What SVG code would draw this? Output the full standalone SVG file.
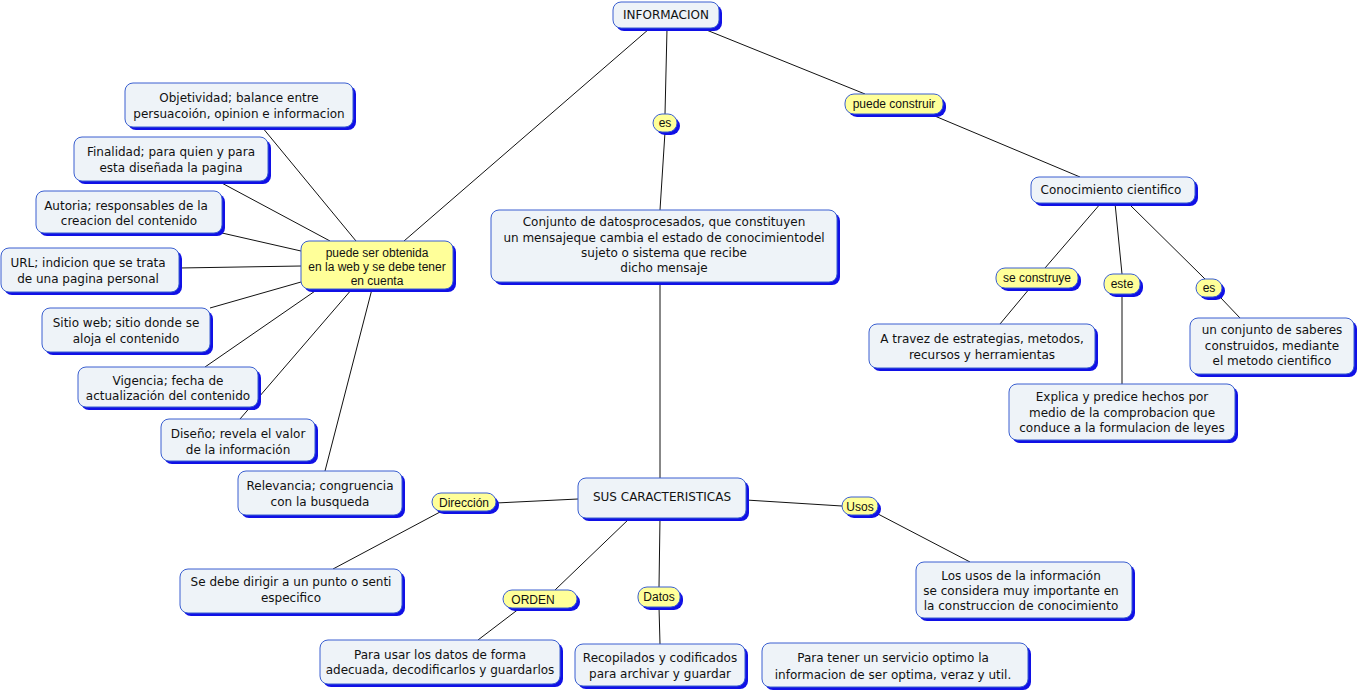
<svg xmlns="http://www.w3.org/2000/svg" width="1358" height="693" viewBox="0 0 1358 693">
<style>
.c rect.b{fill:#eef3f8;stroke:#3a5fd0;stroke-width:1}
.l rect.b{fill:#ffff99;stroke:#3a5fd0;stroke-width:1}
rect.s{fill:#1010e6}
.c text{font-family:"DejaVu Sans",Verdana,sans-serif;font-size:12px;fill:#111;text-anchor:middle}
.l text{font-family:"Liberation Sans",Arial,sans-serif;font-size:12px;fill:#111;text-anchor:middle}
#edges line{stroke:#111;stroke-width:1}
</style>
<rect width="1358" height="693" fill="#fff"/>
<g id="edges">
<line x1="649" y1="29" x2="404" y2="241"/><line x1="667" y1="29" x2="665" y2="114"/><line x1="665" y1="132" x2="660" y2="210"/>
<line x1="704" y1="29" x2="865" y2="94"/><line x1="930" y1="114" x2="1080" y2="177"/>
<line x1="1101" y1="203" x2="1045" y2="268"/><line x1="1030" y1="288" x2="1000" y2="324"/>
<line x1="1115" y1="203" x2="1122" y2="274"/><line x1="1122" y1="294" x2="1122" y2="384"/>
<line x1="1128" y1="203" x2="1205" y2="279"/><line x1="1220" y1="297" x2="1240" y2="318"/>
<line x1="262" y1="127" x2="356" y2="241"/><line x1="218" y1="181" x2="330" y2="241"/>
<line x1="222" y1="233" x2="301" y2="251"/><line x1="179" y1="268" x2="301" y2="266"/>
<line x1="210" y1="308" x2="301" y2="282"/><line x1="205" y1="367" x2="318" y2="289"/>
<line x1="240" y1="419" x2="352" y2="289"/><line x1="325" y1="471" x2="372" y2="289"/>
<line x1="660" y1="282" x2="660" y2="478"/>
<line x1="578" y1="499" x2="496" y2="503"/><line x1="440" y1="512" x2="333" y2="569"/>
<line x1="746" y1="500" x2="842" y2="506"/><line x1="878" y1="514" x2="970" y2="562"/>
<line x1="630" y1="518" x2="555" y2="590"/><line x1="520" y1="608" x2="478" y2="640"/>
<line x1="660" y1="518" x2="659" y2="587"/><line x1="659" y1="607" x2="660" y2="644"/>
</g>
<g id="informacion" class="c"><rect class="s" x="616" y="5" width="106" height="26" rx="8"/><rect class="b" x="613" y="2" width="106" height="26" rx="8"/><text x="666" y="19">INFORMACION</text></g>
<g id="es1" class="l"><rect class="s" x="656" y="117" width="24" height="18" rx="9"/><rect class="b" x="653" y="114" width="24" height="18" rx="9"/><text x="665" y="127">es</text></g>
<g id="puedeconstruir" class="l"><rect class="s" x="848" y="97" width="98" height="20" rx="9"/><rect class="b" x="845" y="94" width="98" height="20" rx="9"/><text x="894" y="108">puede construir</text></g>
<g id="conjunto" class="c"><rect class="s" x="494" y="213" width="346" height="72" rx="8"/><rect class="b" x="491" y="210" width="346" height="72" rx="8"/><text x="664" y="226">Conjunto de datosprocesados, que constituyen</text><text x="664" y="242">un mensajeque cambia el estado de conocimientodel</text><text x="664" y="257">sujeto o sistema que recibe</text><text x="664" y="272">dicho mensaje</text></g>
<g id="obtenida" class="l"><rect class="s" x="304" y="244" width="152" height="48" rx="8"/><rect class="b" x="301" y="241" width="152" height="48" rx="8"/><text x="377" y="257">puede ser obtenida</text><text x="377" y="271">en la web y se debe tener</text><text x="377" y="285">en cuenta</text></g>
<g id="objetividad" class="c"><rect class="s" x="128" y="86" width="228" height="44" rx="8"/><rect class="b" x="125" y="83" width="228" height="44" rx="8"/><text x="239" y="102">Objetividad; balance entre</text><text x="239" y="118">persuacoión, opinion e informacion</text></g>
<g id="finalidad" class="c"><rect class="s" x="77" y="140" width="194" height="44" rx="8"/><rect class="b" x="74" y="137" width="194" height="44" rx="8"/><text x="171" y="156">Finalidad; para quien y para</text><text x="171" y="172">esta diseñada la pagina</text></g>
<g id="autoria" class="c"><rect class="s" x="39" y="194" width="186" height="42" rx="8"/><rect class="b" x="36" y="191" width="186" height="42" rx="8"/><text x="126" y="210">Autoria; responsables de la</text><text x="129" y="225">creacion del contenido</text></g>
<g id="url" class="c"><rect class="s" x="4" y="251" width="178" height="44" rx="8"/><rect class="b" x="1" y="248" width="178" height="44" rx="8"/><text x="88" y="267">URL; indicion que se trata</text><text x="88" y="283">de una pagina personal</text></g>
<g id="sitio" class="c"><rect class="s" x="45" y="311" width="168" height="44" rx="8"/><rect class="b" x="42" y="308" width="168" height="44" rx="8"/><text x="126" y="327">Sitio web; sitio donde se</text><text x="126" y="343">aloja el contenido</text></g>
<g id="vigencia" class="c"><rect class="s" x="81" y="370" width="180" height="40" rx="8"/><rect class="b" x="78" y="367" width="180" height="40" rx="8"/><text x="168" y="385">Vigencia; fecha de</text><text x="168" y="400">actualización del contenido</text></g>
<g id="diseno" class="c"><rect class="s" x="164" y="422" width="154" height="42" rx="8"/><rect class="b" x="161" y="419" width="154" height="42" rx="8"/><text x="238" y="438">Diseño; revela el valor</text><text x="238" y="454">de la información</text></g>
<g id="relevancia" class="c"><rect class="s" x="241" y="474" width="164" height="44" rx="8"/><rect class="b" x="238" y="471" width="164" height="44" rx="8"/><text x="320" y="490">Relevancia; congruencia</text><text x="320" y="506">con la busqueda</text></g>
<g id="conocimiento" class="c"><rect class="s" x="1034" y="180" width="164" height="26" rx="8"/><rect class="b" x="1031" y="177" width="164" height="26" rx="8"/><text x="1111" y="194">Conocimiento cientifico</text></g>
<g id="seconstruye" class="l"><rect class="s" x="999" y="271" width="82" height="20" rx="9"/><rect class="b" x="996" y="268" width="82" height="20" rx="9"/><text x="1037" y="282">se construye</text></g>
<g id="este" class="l"><rect class="s" x="1107" y="277" width="36" height="20" rx="9"/><rect class="b" x="1104" y="274" width="36" height="20" rx="9"/><text x="1122" y="288">este</text></g>
<g id="es2" class="l"><rect class="s" x="1199" y="282" width="26" height="18" rx="9"/><rect class="b" x="1196" y="279" width="26" height="18" rx="9"/><text x="1209" y="292">es</text></g>
<g id="atravez" class="c"><rect class="s" x="872" y="327" width="226" height="44" rx="8"/><rect class="b" x="869" y="324" width="226" height="44" rx="8"/><text x="982" y="343">A travez de estrategias, metodos,</text><text x="982" y="359">recursos y herramientas</text></g>
<g id="saberes" class="c"><rect class="s" x="1193" y="321" width="164" height="56" rx="8"/><rect class="b" x="1190" y="318" width="164" height="56" rx="8"/><text x="1272" y="334">un conjunto de saberes</text><text x="1272" y="350">construidos, mediante</text><text x="1272" y="365">el metodo cientifico</text></g>
<g id="explica" class="c"><rect class="s" x="1012" y="387" width="226" height="56" rx="8"/><rect class="b" x="1009" y="384" width="226" height="56" rx="8"/><text x="1122" y="401">Explica y predice hechos por</text><text x="1122" y="417">medio de la comprobacion que</text><text x="1122" y="432">conduce a la formulacion de leyes</text></g>
<g id="caracteristicas" class="c"><rect class="s" x="581" y="481" width="168" height="40" rx="8"/><rect class="b" x="578" y="478" width="168" height="40" rx="8"/><text x="662" y="501">SUS CARACTERISTICAS</text></g>
<g id="direccion" class="l"><rect class="s" x="435" y="496" width="64" height="18" rx="9"/><rect class="b" x="432" y="493" width="64" height="18" rx="9"/><text x="464" y="507">Dirección</text></g>
<g id="usos" class="l"><rect class="s" x="845" y="500" width="36" height="18" rx="9"/><rect class="b" x="842" y="497" width="36" height="18" rx="9"/><text x="860" y="511">Usos</text></g>
<g id="orden" class="l"><rect class="s" x="506" y="593" width="74" height="18" rx="9"/><rect class="b" x="503" y="590" width="74" height="18" rx="9"/><text x="533" y="604">ORDEN</text></g>
<g id="datos" class="l"><rect class="s" x="641" y="590" width="42" height="20" rx="9"/><rect class="b" x="638" y="587" width="42" height="20" rx="9"/><text x="659" y="601">Datos</text></g>
<g id="sedebe" class="c"><rect class="s" x="183" y="572" width="222" height="44" rx="8"/><rect class="b" x="180" y="569" width="222" height="44" rx="8"/><text x="291" y="586">Se debe dirigir a un punto o senti</text><text x="291" y="602">especifico</text></g>
<g id="losusos" class="c"><rect class="s" x="919" y="565" width="216" height="56" rx="8"/><rect class="b" x="916" y="562" width="216" height="56" rx="8"/><text x="1021" y="580">Los usos de la información</text><text x="1021" y="595">se considera muy importante en</text><text x="1021" y="610">la construccion de conocimiento</text></g>
<g id="parausar" class="c"><rect class="s" x="323" y="643" width="240" height="44" rx="8"/><rect class="b" x="320" y="640" width="240" height="44" rx="8"/><text x="440" y="659">Para usar los datos de forma</text><text x="440" y="674">adecuada, decodificarlos y guardarlos</text></g>
<g id="recopilados" class="c"><rect class="s" x="578" y="647" width="170" height="42" rx="8"/><rect class="b" x="575" y="644" width="170" height="42" rx="8"/><text x="660" y="662">Recopilados y codificados</text><text x="660" y="678">para archivar y guardar</text></g>
<g id="paratener" class="c"><rect class="s" x="765" y="646" width="266" height="44" rx="8"/><rect class="b" x="762" y="643" width="266" height="44" rx="8"/><text x="893" y="662">Para tener un servicio optimo la</text><text x="893" y="679">informacion de ser optima, veraz y util.</text></g>
</svg>
